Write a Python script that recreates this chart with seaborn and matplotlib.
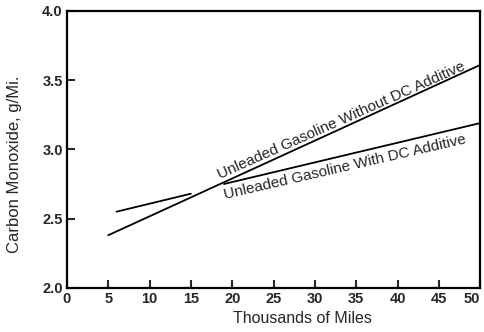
import pandas as pd
import numpy as np
import matplotlib.pyplot as plt
import seaborn as sns

sns.set_style("white")
plt.rcParams['font.family'] = ['Liberation Sans', 'DejaVu Sans']

# data
miles_without = [5, 50]
co_without = [2.38, 3.61]
miles_with = [6, 15, 19, 50]
co_with = [2.55, 2.68, 2.75, 3.19]
seg_with = [0, 0, 1, 1]  # line is broken where it crosses the other one

x_ticks = [0, 5, 10, 15, 20, 25, 30, 35, 40, 45, 50]
y_ticks = [2.0, 2.5, 3.0, 3.5, 4.0]

df = pd.concat([
    pd.DataFrame({"miles": miles_without, "co": co_without, "seg": 10}),
    pd.DataFrame({"miles": miles_with, "co": co_with, "seg": seg_with}),
])

fig = plt.figure(figsize=(4.85, 3.32), dpi=100)
ax = fig.add_axes([0.138, 0.133, 0.852, 0.834])

sns.lineplot(data=df, x="miles", y="co", units="seg", estimator=None,
             color="black", linewidth=1.3, ax=ax)

ax.set_xlim(0, 50)
ax.set_ylim(2.0, 4.0)
ax.set_xticks(x_ticks)
ax.set_yticks(y_ticks)
ax.set_xticklabels([str(v) for v in x_ticks], fontweight="bold")
ax.set_yticklabels([f"{v:.1f}" for v in y_ticks], fontweight="bold")
ax.get_xticklabels()[-1].set_ha("right")
ax.tick_params(direction="in", length=6, width=1.5, labelsize=10.5,
               bottom=True, left=True, top=False, right=False, pad=3)
for s in ax.spines.values():
    s.set_color("black")
    s.set_linewidth(1.6)

ax.set_xlabel("Thousands of Miles", fontsize=11.5)
ax.xaxis.set_label_coords(0.57, -0.085)
ax.set_ylabel("Carbon Monoxide, g/Mi.", fontsize=12)
ax.yaxis.set_label_coords(-0.108, 0.445)

# labels along the lines
ax.text(33.2, 3.21, "Unleaded Gasoline Without DC Additive", fontsize=11,
        rotation=24, ha="center", va="center", rotation_mode="anchor")
ax.text(33.6, 2.87, "Unleaded Gasoline With DC Additive", fontsize=11,
        rotation=13, ha="center", va="center", rotation_mode="anchor")

fig.savefig("out.png", dpi=100)
